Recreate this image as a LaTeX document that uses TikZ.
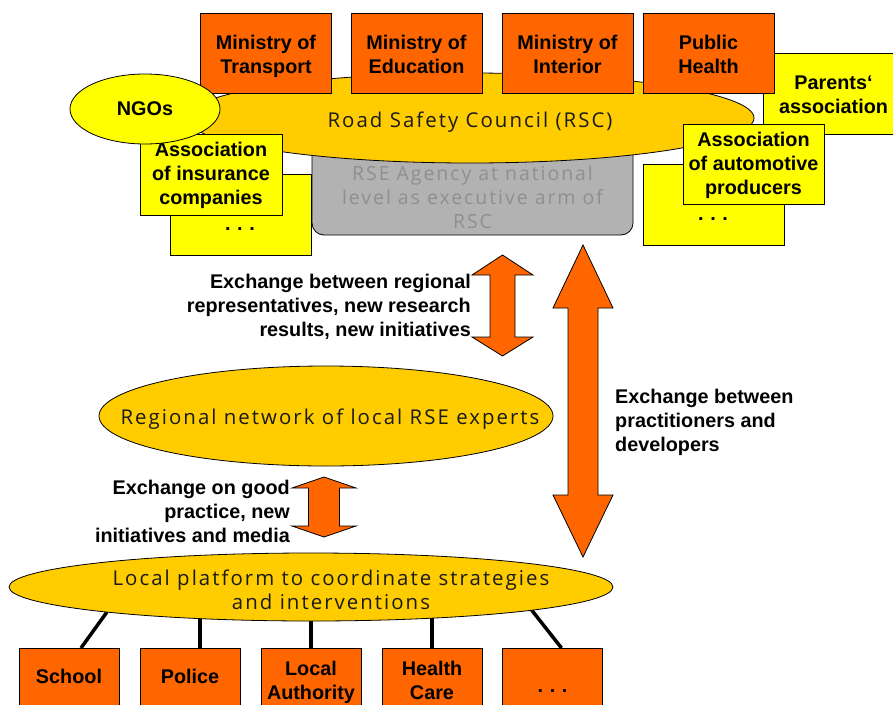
\documentclass[tikz,border=0pt]{standalone}
\usepackage{fontspec}
\setmainfont{Liberation Sans}
\newfontfamily\ellfont[LetterSpace=10]{Open Sans}
\usetikzlibrary{shapes.geometric}
\pgfdeclarelayer{bg}
\pgfsetlayers{bg,main}
\definecolor{orng}{HTML}{FF6600}
\definecolor{gold}{HTML}{FFCC00}
\definecolor{yel}{HTML}{FFFF00}
\definecolor{agfill}{HTML}{B2B2B2}
\definecolor{agtext}{HTML}{8F8F8F}
\definecolor{elltext}{HTML}{1A1A1A}
\newcommand{\bfnt}{\fontsize{19.8}{24}\selectfont\bfseries}
\newcommand{\efnt}{\ellfont\fontsize{20.4}{24}\selectfont}
\newcommand{\afnt}{\ellfont\fontsize{19.5}{24}\selectfont}
\tikzset{
  base/.style={draw=black, line width=0.8pt, inner sep=0pt, outer sep=0pt, align=center},
  obox/.style={base, fill=orng, minimum width=131pt, minimum height=80pt},
  lbox/.style={base, fill=orng, minimum width=100pt, minimum height=62pt},
  ybox/.style={base, fill=yel, minimum width=141pt, minimum height=81pt},
  btxt/.style={inner sep=0pt, align=center, font=\bfnt, execute at begin node=\strut, execute at end node=\strut},
  gell/.style={base, ellipse, fill=gold},
  elltxt/.style={inner sep=0pt, align=center, font=\efnt, text=elltext},
  yell/.style={base, ellipse, fill=yel, font=\bfnt},
  dotstxt/.style={inner sep=0pt, font=\bfnt},
  lbl/.style={inner sep=0pt, font=\bfnt},
  dblarrow/.style={draw=black, line width=0.8pt, fill=orng, line join=miter},
  conn/.style={draw=black, line width=3.5pt}
}
\begin{document}
\begin{tikzpicture}[x=1pt,y=-1pt]
\useasboundingbox (0,0) rectangle (893,704);
\clip (0,0) rectangle (893,704);
\begin{pgfonlayer}{bg}
\fill[white] (0,0) rectangle (893,704);
\end{pgfonlayer}

% agency
\node[base, fill=agfill, rounded corners=12pt, minimum width=321pt, minimum height=95pt] (agency) at (472.5,187.5) {};
% back boxes
\node[ybox] (lback) at (241,215) {};
\node[ybox] (rback) at (713.5,204.5) {};
\node[ybox] (parents) at (833.5,93.5) {};
\node[btxt] (parentst) at (833.5,98.5) {Parents‘\\association};
% RSC
\node[gell, minimum width=568pt, minimum height=90pt] (rsc) at (470,118) {};
\node[elltxt] (rsct) at (470,122) {Road Safety Council (RSC)};
\node[inner sep=0pt, font=\afnt, text=agtext, align=center] (agencyt) at (472.5,197) {RSE Agency at national\\level as executive arm of\\RSC};
% ministries
\node[obox] (mt) at (266,53) {};
\node[btxt] (mtt) at (266,58) {Ministry of\\Transport};
\node[obox] (me) at (416.5,53) {};
\node[btxt] (met) at (416.5,58) {Ministry of\\Education};
\node[obox] (mi) at (567.5,53) {};
\node[btxt] (mit) at (567.5,58) {Ministry of\\Interior};
\node[obox] (ph) at (708.5,53) {};
\node[btxt] (pht) at (708.5,58) {Public\\Health};
% insurance and NGOs
\node[ybox, minimum width=142pt] (ins) at (211,174.5) {};
\node[btxt] (inst) at (211,177) {Association\\of insurance\\companies};
\node[yell, minimum width=150pt, minimum height=70pt] (ngo) at (145,109) {NGOs};
% automotive
\node[ybox, minimum height=80pt] (auto) at (753.5,164) {};
\node[btxt] (autot) at (753.5,166.5) {Association\\of automotive\\producers};
% dots
\node[dotstxt] (ldots) at (240,229) {.\,\,.\,\,.};
\node[dotstxt] (rdots) at (713,219) {.\,\,.\,\,.};

% arrows
\path[dblarrow] (502.5,255) -- (533,275) -- (515,275) -- (515,337) -- (533,337) -- (502.5,356)
  -- (472,337) -- (490,337) -- (490,275) -- (472,275) -- cycle;
\path[dblarrow] (583,245) -- (613,308) -- (598,308) -- (598,495) -- (613,495) -- (583,557)
  -- (553,495) -- (568,495) -- (568,308) -- (553,308) -- cycle;
\path[dblarrow] (324,477) -- (356,488) -- (339.5,488) -- (339.5,526) -- (356,526) -- (324,537)
  -- (292,526) -- (308.5,526) -- (308.5,488) -- (292,488) -- cycle;

% labels
\node[lbl, anchor=east, align=right] (l1) at (471,307) {Exchange between regional\\representatives, new research\\results, new initiatives};
\node[lbl, anchor=east, align=right] (l2) at (290,511) {Exchange on good\\practice, new\\initiatives and media};
\node[lbl, anchor=west, align=left] (l3) at (615,422) {Exchange between\\practitioners and\\developers};

% regional
\node[gell, minimum width=454pt, minimum height=100pt] (reg) at (326,416) {};
\node[elltxt] (regt) at (330,419) {Regional network of local RSE experts};
% local platform
\node[gell, minimum width=604pt, minimum height=68pt] (plat) at (311,587) {};
\node[elltxt] (platt) at (331,590) {Local platform to coordinate strategies\\and interventions};

% bottom boxes
\node[lbox] (school) at (69,679) {};
\node[btxt] (schoolt) at (69,679) {School};
\node[lbox] (police) at (190,679) {};
\node[btxt] (policet) at (190,679) {Police};
\node[lbox] (local) at (311,679) {};
\node[btxt] (localt) at (311,684) {Local\\Authority};
\node[lbox] (health) at (432,679) {};
\node[btxt] (healtht) at (432,684) {Health\\Care};
\node[lbox] (more) at (552.5,679) {};
\node[dotstxt] (mdots) at (552.5,691) {.\,\,.\,\,.};

\begin{pgfonlayer}{bg}
\draw[conn] ([xshift=12pt]school.north) -- (plat.-173);
\draw[conn] ([xshift=10pt]police.north) -- ([xshift=10pt]police.north |- plat.center);
\draw[conn] (local.north) -- (local.north |- plat.center);
\draw[conn] (health.north) -- (health.north |- plat.center);
\draw[conn] ([xshift=9pt]more.north) -- (plat.-6.5);
\end{pgfonlayer}
\end{tikzpicture}
\end{document}
